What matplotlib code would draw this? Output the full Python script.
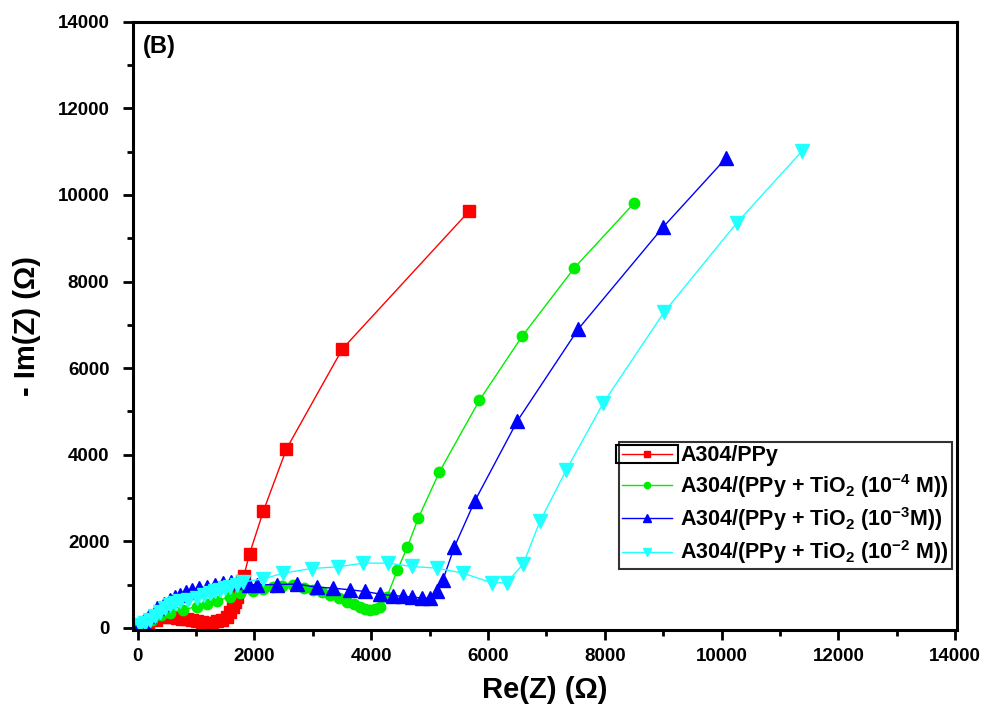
import matplotlib
matplotlib.use("Agg")
import matplotlib.pyplot as plt
from matplotlib.patches import Rectangle
from matplotlib.ticker import MultipleLocator

plt.rcParams['font.family'] = ['Liberation Sans', 'DejaVu Sans']
plt.rcParams['font.weight'] = 'bold'
plt.rcParams['mathtext.fontset'] = 'custom'
plt.rcParams['mathtext.rm'] = 'Liberation Sans:bold'
plt.rcParams['mathtext.bf'] = 'Liberation Sans:bold'
plt.rcParams['mathtext.default'] = 'bf'

# Nyquist data (Ohm)
red_x = [60, 180, 320, 450, 556, 671, 760, 842, 930, 1013, 1100, 1184, 1270, 1355,
         1440, 1526, 1590, 1637, 1670, 1697, 1725, 1754, 1790, 1820, 1917, 2156,
         2550, 3508, 5682]
red_y = [30, 110, 190, 240, 250, 235, 215, 200, 170, 146, 125, 108, 115, 146,
         190, 261, 370, 492, 600, 723, 840, 954, 1080, 1200, 1709, 2703,
         4135, 6445, 9633]

green_x = [30, 120, 250, 400, 550, 782, 1013, 1189, 1355, 1583, 1754, 1977, 2150,
           2319, 2480, 2662, 2850, 3004, 3150, 3295, 3450, 3586, 3700, 3808, 3900,
           3979, 4060, 4150, 4270, 4450, 4620, 4809, 5169, 5853, 6589, 7479, 8506]
green_y = [20, 90, 190, 290, 350, 416, 492, 560, 608, 723, 808, 850, 900,
           940, 975, 990, 930, 878, 820, 762, 680, 600, 540, 485, 440,
           416, 430, 485, 716, 1340, 1871, 2541, 3604, 5256, 6745, 8316, 9818]

blue_x = [0, 100, 200, 328, 450, 556, 640, 727, 830, 928, 1050, 1184, 1320, 1469,
          1600, 1750, 1900, 2048, 2391, 2724, 3067, 3353, 3637, 3894, 4150, 4380,
          4545, 4694, 4866, 5006, 5120, 5229, 5425, 5776, 6504, 7548, 9002, 10080]
blue_y = [0, 130, 270, 450, 560, 650, 710, 762, 820, 878, 920, 954, 1000, 1046,
          1060, 1050, 1000, 993, 1000, 1010, 940, 916, 878, 839, 780, 740,
          730, 710, 690, 680, 839, 1109, 1871, 2934, 4782, 6907, 9263, 10857]

cyan_x = [43, 130, 214, 300, 385, 470, 556, 640, 727, 870, 1013, 1130, 1241, 1330,
          1412, 1500, 1583, 1700, 1811, 2153, 2495, 2981, 3437, 3865, 4293, 4694,
          5120, 5576, 6061, 6318, 6603, 6889, 7342, 7975, 9019, 10260, 11381]
cyan_y = [60, 120, 185, 280, 376, 450, 531, 570, 608, 650, 693, 750, 808, 845,
          878, 915, 954, 1000, 1060, 1130, 1263, 1370, 1410, 1494, 1494, 1417,
          1379, 1263, 1040, 1040, 1475, 2460, 3650, 5197, 7300, 9355, 11019]

labels = ['A304/PPy',
          r'A304/(PPy + TiO$_2$ (10$^{-4}$ M))',
          r'A304/(PPy + TiO$_2$ (10$^{-3}$M))',
          r'A304/(PPy + TiO$_2$ (10$^{-2}$ M))']

fig = plt.figure(figsize=(9.93, 7.18), dpi=100)
ax = fig.add_axes([0.134, 0.1226, 0.830, 0.847])

ax.plot(red_x, red_y, '-s', color='#ff0000', lw=1, ms=8, label=labels[0])
ax.plot(green_x, green_y, '-o', color='#00ee00', lw=1, ms=7.5, label=labels[1])
ax.plot(blue_x, blue_y, '-^', color='#0000ff', lw=1, ms=9.5, label=labels[2])
ax.plot(cyan_x, cyan_y, '-v', color='#22ffff', lw=1, ms=9.5, label=labels[3])

ax.set_xlim(-77, 14034)
ax.set_ylim(-50, 14000)
ax.xaxis.set_major_locator(MultipleLocator(2000))
ax.xaxis.set_minor_locator(MultipleLocator(1000))
ax.yaxis.set_major_locator(MultipleLocator(2000))
ax.yaxis.set_minor_locator(MultipleLocator(1000))
ax.tick_params(which='major', direction='out', length=7, width=2, labelsize=13.5)
ax.tick_params(axis='y', which='major', pad=10)
ax.tick_params(axis='x', which='major', pad=6)
ax.tick_params(which='minor', direction='out', length=4, width=2)
for s in ax.spines.values():
    s.set_linewidth(2.2)

ax.set_xlabel('Re(Z) (\u03a9)', fontsize=21, fontweight='bold', labelpad=8)
ax.set_ylabel('- Im(Z) (\u03a9)', fontsize=21, fontweight='bold', labelpad=12)
ax.text(0.012, 0.978, '(B)', transform=ax.transAxes, fontsize=17,
        fontweight='bold', va='top', ha='left')

leg = ax.legend(loc='upper right', bbox_to_anchor=(0.994, 0.309), fontsize=15.5,
                fancybox=False, edgecolor='#333333', framealpha=1,
                handlelength=2.3, handletextpad=0.4, labelspacing=0.25,
                borderpad=0.15, markerscale=0.6, borderaxespad=0)
leg.get_frame().set_linewidth(1.5)

# box around the first legend handle, as in the original export
fig.canvas.draw()
bb = leg.legend_handles[0].get_window_extent().transformed(fig.transFigure.inverted())
h = 18 / fig.bbox.height
fig.add_artist(Rectangle((bb.x0 - 0.003, (bb.y0 + bb.y1) / 2 - h / 2),
                         bb.width + 0.006, h, transform=fig.transFigure,
                         fill=False, edgecolor='black', lw=1.5))

fig.savefig('out.png', dpi=100)
